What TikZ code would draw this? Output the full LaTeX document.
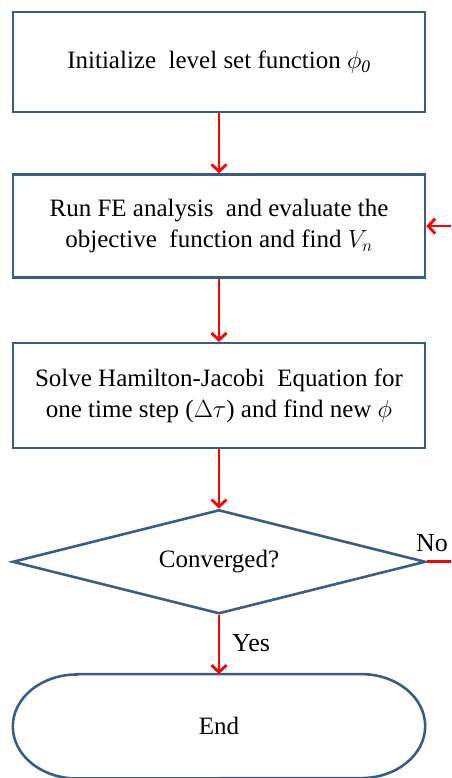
\documentclass[tikz,border=0pt]{standalone}
\usepackage{fontspec}
\setmainfont{Liberation Serif}
\usetikzlibrary{positioning}
\usetikzlibrary{arrows.meta}
\usetikzlibrary{shapes}
\definecolor{boxblue}{RGB}{56,93,138}
\tikzset{%
	% Specifications for style of nodes:
	outline/.style = {draw=boxblue, line width=2.6pt},
	base/.style = {outline, align=center,
		text centered, font=\fontsize{25pt}{31pt}\selectfont},
	process/.style = {base, rectangle, minimum width=412pt, minimum height=100pt},
	decision/.style = {base, diamond, aspect=4, minimum width=413pt, minimum height=104pt,
		inner sep=0pt},
	terminal/.style = {rectangle, minimum width=412pt, minimum height=104pt,
		font=\fontsize{25pt}{25pt}\selectfont},
	answer/.style = {inner sep=0pt, font=\fontsize{26pt}{26pt}\selectfont},
	flow/.style = {draw=red, line width=2.8pt, -{Straight Barb[length=7pt, width=15pt]}}
}

\begin{document}
\begin{tikzpicture}[x=1pt, y=1pt]
		\useasboundingbox (0,0) rectangle (451,778);
		\clip (0,0) rectangle (451,778);
		\node (init) [process] at (219,716) {Initialize\ \ level set function $\phi_{\mathit{0}}$};
		\node (analysis) [process, minimum height=103pt, below=60pt of init] {Run FE analysis\ \ and evaluate the \\ objective\ \ function and find $V_n$};
		\node (solve) [process, minimum height=105pt, below=63pt of analysis] {Solve Hamilton-Jacobi\ \ Equation for \\ one time step ($\Delta\tau$) and find new $\phi$};
		\node (check) [decision, below=59pt of solve] {Converged?};
		\node (finish) [terminal, below=59pt of check] {End};
		% stadium outline with elliptic ends
		\draw[outline] ([xshift=64pt]finish.north west) -- ([xshift=-64pt]finish.north east)
			arc[start angle=90, end angle=-90, x radius=64pt, y radius=52pt]
			-- ([xshift=64pt]finish.south west)
			arc[start angle=270, end angle=90, x radius=64pt, y radius=52pt] -- cycle;
		\draw[flow] (init.south) -- (analysis.north);
		\draw[flow] (analysis.south) -- (solve.north);
		\draw[flow] (solve.south) -- (check.north);
		\draw[flow] (check.south) -- (finish.north);
		\draw[flow] (check.east) -- ++(40,0) coordinate (loopR) |- (analysis.east);
		\node (nolabel) [answer, anchor=base west] at ([xshift=-11pt, yshift=10pt]check.east) {No};
		\node (yeslabel) [answer, anchor=base west] at ([xshift=13pt, yshift=-36pt]check.south) {Yes};
	\end{tikzpicture}
\end{document}
